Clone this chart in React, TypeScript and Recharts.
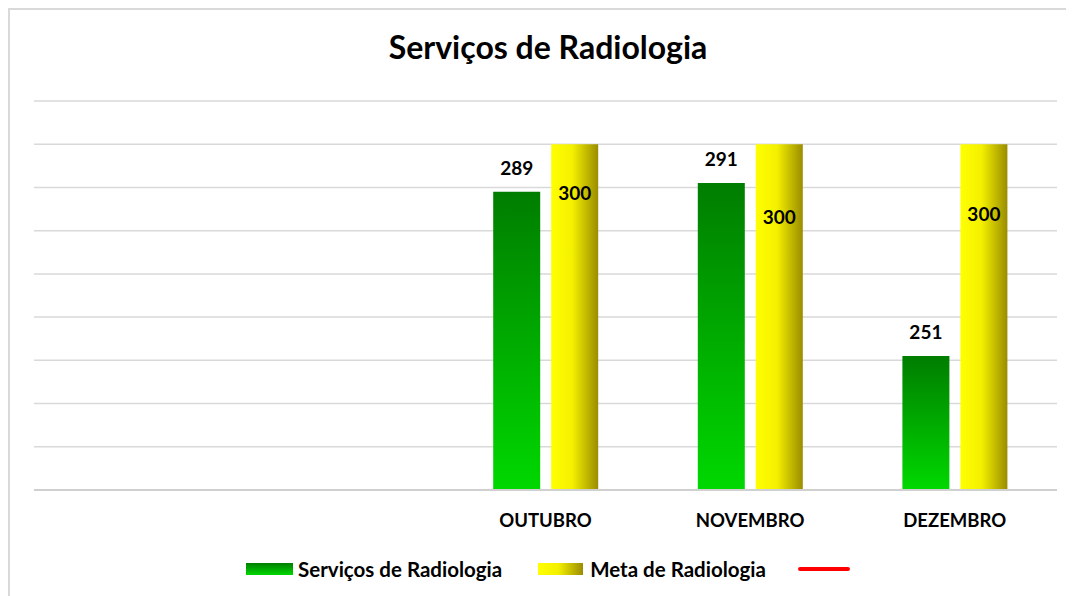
import { Bar, BarChart, CartesianGrid, LabelList, XAxis, YAxis } from "recharts";

const months = ["", " ", "OUTUBRO", "NOVEMBRO", "DEZEMBRO"];
const servicos = [null, null, 289, 291, 251];
const meta = [null, null, 300, 300, 300];
const yTicks = [220, 230, 240, 250, 260, 270, 280, 290, 300, 310];

const data = months.map((month, i) => ({ month, servicos: servicos[i], meta: meta[i] }));

// the goal labels sit at uneven heights inside the yellow bars (one per drawn bar)
const metaLabelDrop = [49, 73, 70];

const FONT = "Lato, 'Open Sans', sans-serif";

function MonthTick({ x, y, payload }: any) {
  return (
    <text x={x} y={y + 29} textAnchor="middle" fontFamily={FONT} fontWeight={700} fontSize={18.5} fill="#000">
      {payload.value}
    </text>
  );
}

function MetaLabel({ x, y, width, value, index }: any) {
  if (value == null) return null;
  return (
    <text
      x={x + width / 2}
      y={y + (metaLabelDrop[index] ?? 49) + 7}
      textAnchor="middle"
      fontFamily={FONT}
      fontWeight={700}
      fontSize={19}
      fill="#000"
    >
      {value}
    </text>
  );
}

export default function App() {
  return (
    <div
      style={{
        position: "relative",
        width: 1080,
        height: 600,
        border: "2px solid #d9d9d9",
        borderRight: "none",
        borderBottom: "none",
        boxSizing: "border-box",
        background: "#fff",
        fontFamily: FONT,
      }}
    >
      <div
        style={{
          position: "absolute",
          left: 0,
          width: 1076,
          top: 17,
          textAlign: "center",
          fontSize: 32,
          fontWeight: 700,
          color: "#000",
        }}
      >
        Serviços de Radiologia
      </div>

      <div style={{ position: "absolute", left: 0, top: 0 }}>
        <BarChart width={1062} height={580} data={data} margin={{ top: 91, right: 15, left: 24, bottom: 70 }} barSize={47} barGap={11}>
          <defs>
            <linearGradient id="gradServ" x1="0" y1="0" x2="0" y2="1">
              <stop offset="0%" stopColor="#007d00" />
              <stop offset="100%" stopColor="#00d800" />
            </linearGradient>
            <linearGradient id="gradMeta" x1="0" y1="0" x2="1" y2="0">
              <stop offset="0%" stopColor="#ffff00" />
              <stop offset="45%" stopColor="#f4f000" />
              <stop offset="100%" stopColor="#9a8c00" />
            </linearGradient>
          </defs>
          <CartesianGrid vertical={false} stroke="#d9d9d9" strokeWidth={1.5} />
          <XAxis
            dataKey="month"
            height={30}
            tickLine={false}
            axisLine={{ stroke: "#d0d0d0", strokeWidth: 2 }}
            tick={<MonthTick />}
            interval={0}
          />
          <YAxis hide domain={[220, 310]} ticks={yTicks} allowDataOverflow />
          <Bar dataKey="servicos" fill="url(#gradServ)" isAnimationActive={false}>
            <LabelList dataKey="servicos" position="top" offset={17} fill="#000" fontFamily={FONT} fontWeight={700} fontSize={19} />
          </Bar>
          <Bar dataKey="meta" fill="url(#gradMeta)" isAnimationActive={false}>
            <LabelList dataKey="meta" content={<MetaLabel />} />
          </Bar>
        </BarChart>
      </div>

      <div
        style={{
          position: "absolute",
          top: 546,
          left: 236,
          display: "flex",
          alignItems: "center",
          fontSize: 20.5,
          fontWeight: 700,
          color: "#000",
          height: 26,
        }}
      >
        <span style={{ width: 47, height: 12, background: "linear-gradient(#007d00, #00d800)", marginRight: 5 }} />
        <span>Serviços de Radiologia</span>
        <span
          style={{
            width: 45,
            height: 12,
            background: "linear-gradient(to right, #ffff00, #f4f000 45%, #9a8c00)",
            marginLeft: 36,
            marginRight: 7,
          }}
        />
        <span>Meta de Radiologia</span>
        <span style={{ width: 52, height: 4, borderRadius: 2, background: "#ff0000", marginLeft: 32 }} />
      </div>
    </div>
  );
}
